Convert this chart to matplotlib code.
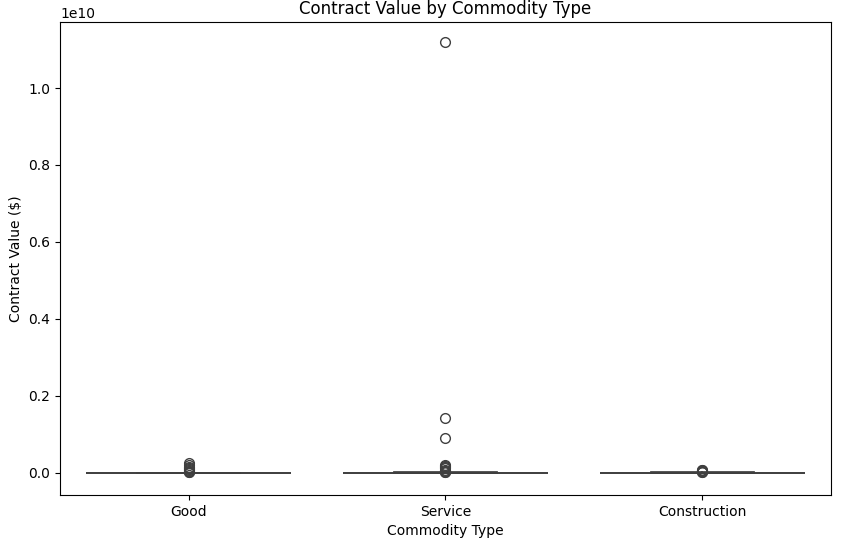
import matplotlib
matplotlib.use("Agg")
import matplotlib.pyplot as plt

categories = ["Good", "Service", "Construction"]
q1 = [1.0e5, 1.0e5, 2.0e5]
med = [5.0e5, 5.0e5, 8.0e5]
q3 = [2.0e6, 2.5e6, 3.0e6]
whislo = [0.0, 0.0, 0.0]
whishi = [5.0e6, 6.0e6, 7.0e6]
fliers = [
    [2.6e8, 2.1e8, 1.6e8, 1.2e8, 0.9e8, 0.6e8, 0.4e8, 0.2e8, 1.0e7],
    [1.12e10, 1.43e9, 9.0e8, 2.0e8, 1.7e8, 1.4e8, 1.1e8, 0.8e8, 0.5e8, 0.3e8, 1.0e7],
    [0.8e8, 0.6e8, 0.4e8, 0.2e8, 1.0e7],
]

stats = [dict(q1=a, med=b, q3=c, whislo=d, whishi=e, fliers=f, label=l)
         for a, b, c, d, e, f, l in zip(q1, med, q3, whislo, whishi, fliers, categories)]

fig = plt.figure(figsize=(8.46, 5.47), dpi=100)
ax = fig.add_axes([0.071, 0.095, 0.911, 0.865])
col = "#3f3f3f"
ax.bxp(stats, positions=range(3), widths=0.8, patch_artist=True,
       boxprops=dict(facecolor="#4c72b0", edgecolor=col, linewidth=1.25),
       medianprops=dict(color=col, linewidth=1.25),
       whiskerprops=dict(color=col, linewidth=1.25),
       capprops=dict(color=col, linewidth=1.25), capwidths=0.4,
       flierprops=dict(marker="o", markerfacecolor="none", markeredgecolor=col, markersize=7))
ax.set_xlim(-0.5, 2.5)
ax.set_ylim(-0.058e10, 1.172e10)
ax.set_title("Contract Value by Commodity Type")
ax.set_xlabel("Commodity Type")
ax.set_ylabel("Contract Value ($)")
fig.savefig("out.png", dpi=100)
